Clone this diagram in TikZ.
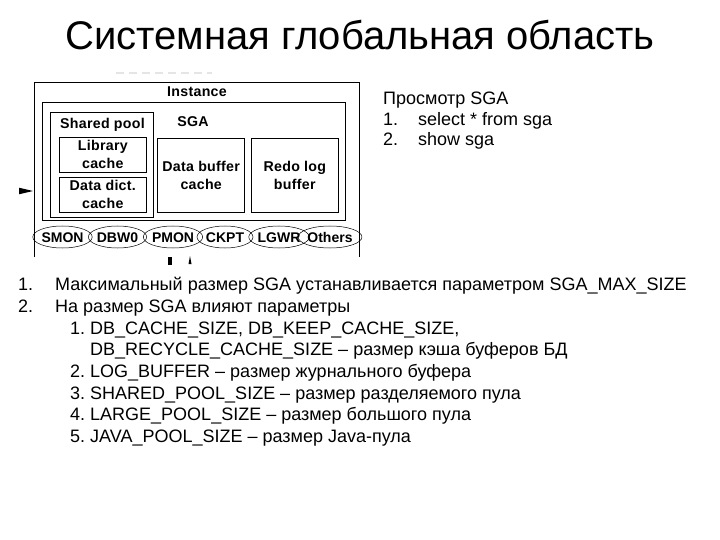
\documentclass[tikz,border=0pt]{standalone}
\usepackage{fontspec}
\setmainfont{Liberation Sans}
\newfontfamily\diagfont[LetterSpace=2]{Liberation Sans}
\newfontfamily\procfont[LetterSpace=0]{Liberation Sans}
\usetikzlibrary{shapes.geometric}
\begin{document}
\begin{tikzpicture}[x=1pt,y=-1pt,
  boxline/.style={draw, line width=0.8pt},
  lbl/.style={font=\diagfont\bfseries\fontsize{14.2}{17.5}\selectfont, align=center, inner sep=0},
  proc/.style={draw, ellipse, line width=0.5pt, minimum height=22pt, inner sep=0,
    text height=10pt, text depth=0pt, font=\procfont\bfseries\fontsize{14}{15}\selectfont},
  txt/.style={anchor=base west, inner sep=0, font=\fontsize{18}{21}\selectfont},
  ttl/.style={anchor=base, inner sep=0, font=\fontsize{40}{46}\selectfont}]
\useasboundingbox (0,0) rectangle (720,540);
\fill[white] (0,0) rectangle (720,540);

% title
\node[ttl] (title) at (360,50) {Системная глобальная область};

% cut-off fragments of the original figure
\draw[gray!20, line width=2.5pt, dash pattern=on 8pt off 5pt] (116,73) -- (212,73);
\draw[boxline] (34,257) -- (34,82.7) -- (359,82.7) -- (359,257);
\fill (19,187.7) -- (33,191) -- (19,194.3) -- cycle;
\fill (168,257) rectangle (171.5,265);
\fill (188.5,264) -- (190,256) -- (191.5,264) -- cycle;

% boxes
\draw[boxline] (42,102.3) rectangle (345,220.7);
\draw[boxline] (50,112.3) rectangle (153.7,217.3);
\draw[boxline] (59,137) rectangle (146.7,172.3);
\draw[boxline] (59,177.3) rectangle (146.7,212);
\draw[boxline] (157.7,138) rectangle (244.7,212.7);
\draw[boxline] (251,138) rectangle (338.7,212.7);

\node[lbl] (inst) at (197,91.7) {Instance};
\node[lbl] (sga) at (193,121.7) {SGA};
\node[lbl] (sp) at (102.5,125) {Shared pool};
\node[lbl] (lib) at (102.8,154.6) {Library\\cache};
\node[lbl] (dd) at (102.8,194.6) {Data dict.\\cache};
\node[lbl] (dbc) at (201.2,175.3) {Data buffer\\cache};
\node[lbl] (rlb) at (294.8,175.3) {Redo log\\buffer};

% processes
\node[proc, minimum width=52pt] (smon) at (62.5,237) {SMON};
\node[proc, minimum width=55pt] (dbw) at (117.5,237) {DBW0};
\node[proc, minimum width=54pt] (pmon) at (173,237) {PMON};
\node[proc, minimum width=56pt] (ckpt) at (225,237) {CKPT};
\node[proc, minimum width=52pt] (lgwr) at (279,237) {LGWR};
\node[proc, minimum width=50pt] (oth) at (330,237) {Others};

% right text
\node[txt] (v0) at (383,105) {Просмотр SGA};
\node[txt] (v1n) at (383,125.5) {1.};
\node[txt] (v1) at (418,125.5) {select * from sga};
\node[txt] (v2n) at (383,146) {2.};
\node[txt] (v2) at (418,146) {show sga};

% list
\node[txt] (l1n) at (18,290) {1.};
\node[txt] (l1) at (55,290) {Максимальный размер SGA устанавливается параметром SGA\_MAX\_SIZE};
\node[txt] (l2n) at (18,312) {2.};
\node[txt] (l2) at (55,312) {На размер SGA влияют параметры};
\node[txt] (s1n) at (70,334) {1.};
\node[txt] (s1) at (90,334) {DB\_CACHE\_SIZE, DB\_KEEP\_CACHE\_SIZE,};
\node[txt] (s1b) at (90,355.5) {DB\_RECYCLE\_CACHE\_SIZE – размер кэша буферов БД};
\node[txt] (s2n) at (70,377) {2.};
\node[txt] (s2) at (90,377) {LOG\_BUFFER – размер журнального буфера};
\node[txt] (s3n) at (70,399) {3.};
\node[txt] (s3) at (90,399) {SHARED\_POOL\_SIZE – размер разделяемого пула};
\node[txt] (s4n) at (70,420.5) {4.};
\node[txt] (s4) at (90,420.5) {LARGE\_POOL\_SIZE – размер большого пула};
\node[txt] (s5n) at (70,442) {5.};
\node[txt] (s5) at (90,442) {JAVA\_POOL\_SIZE – размер Java-пула};
\end{tikzpicture}
\end{document}
